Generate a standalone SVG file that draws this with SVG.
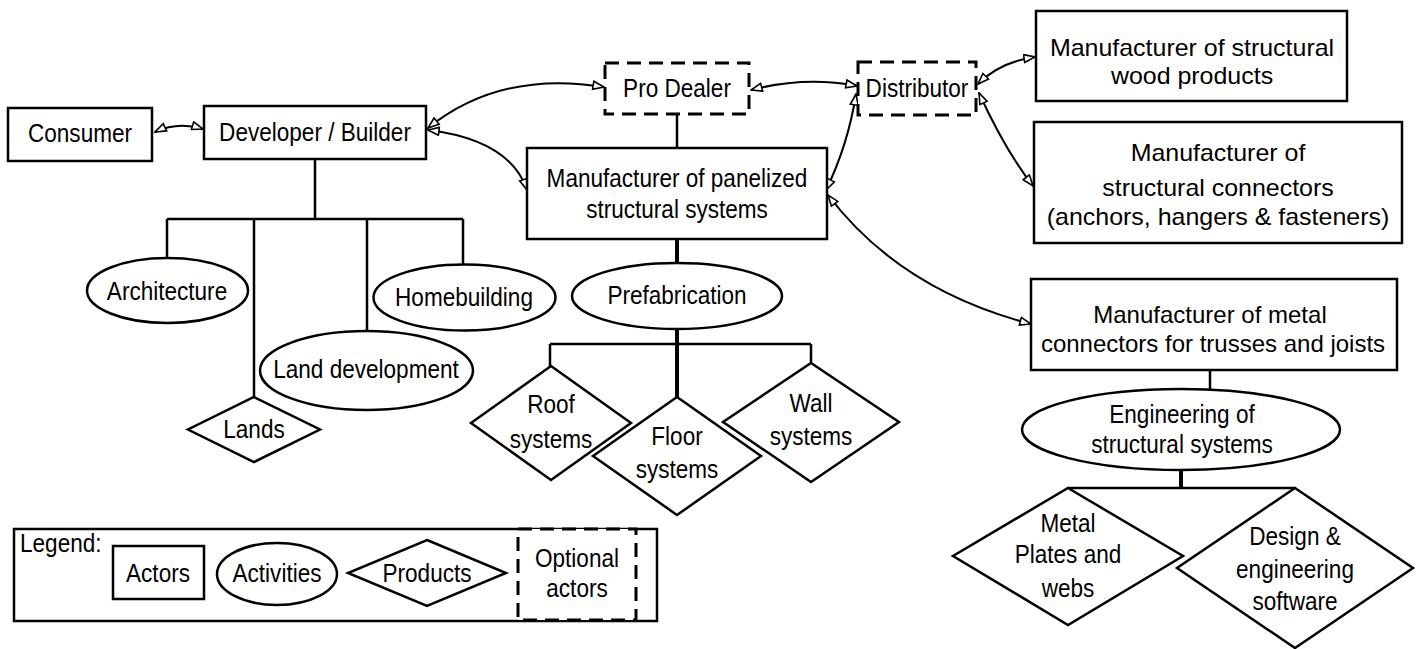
<svg xmlns="http://www.w3.org/2000/svg" width="1420" height="649" viewBox="0 0 1420 649">
<style>
.n{fill:#fff;stroke:#000;stroke-width:2.5}
.d{fill:#fff;stroke:#000;stroke-width:3;stroke-dasharray:14 8}
.t{font-family:"Liberation Sans",Arial,sans-serif;font-size:25.5px;fill:#000;text-anchor:middle}
.b{font-size:24px}
.s{text-anchor:start}
.l{fill:none;stroke:#000;stroke-width:2.5}
.k{fill:none;stroke:#000;stroke-width:4}
.c{fill:none;stroke:#000;stroke-width:2;marker-start:url(#arr);marker-end:url(#arr)}
</style>
<defs>
<marker id="arr" viewBox="0 0 13 10" refX="12" refY="5" markerWidth="13" markerHeight="10" markerUnits="userSpaceOnUse" orient="auto-start-reverse">
<path d="M1,1 L12,5 L1,9 Z" fill="#fff" stroke="#000" stroke-width="1.6"/>
</marker>
</defs>
<rect width="1420" height="649" fill="#fff"/>
<g id="tree-lines">
<path class="l" d="M315 159 V219 M167 219 H463 M167 219 V258 M254 219 V397 M367 219 V331 M463 219 V264"/>
<path class="l" d="M677 114 V148"/>
<path class="k" d="M677 239 V263 M677 329 V397"/>
<path class="l" d="M550 344 H811 M550 344 V367 M811 344 V363"/>
<path class="l" d="M1210 370 V389"/>
<path class="k" d="M1181 470 V488"/>
<path class="l" d="M1068 488 H1295"/>
</g>
<g id="connectors">
<path class="c" d="M155 132 Q178 121 203 129"/>
<path class="c" d="M428 128 Q500 70 604 87"/>
<path class="c" d="M428 130 Q510 140 527 190"/>
<path class="c" d="M751 90 Q805 76 857 86"/>
<path class="c" d="M856 94 Q848 145 826 190"/>
<path class="c" d="M978 84 Q1000 62 1035 57"/>
<path class="c" d="M979 93 Q1005 150 1033 186"/>
<path class="c" d="M828 195 Q900 290 1031 324"/>
</g>
<g id="consumer"><rect class="n" x="8" y="108" width="144" height="53"/><text class="t" transform="translate(80 142) scale(.885 1)">Consumer</text></g>
<g id="developer"><rect class="n" x="204" y="106" width="222" height="53"/><text class="t" transform="translate(315 141) scale(.885 1)">Developer / Builder</text></g>
<g id="pro-dealer"><rect class="d" x="605" y="63" width="144" height="51"/><text class="t" transform="translate(677 97) scale(.885 1)">Pro Dealer</text></g>
<g id="distributor"><rect class="d" x="858" y="62" width="118" height="53"/><text class="t" transform="translate(917 97) scale(.885 1)">Distributor</text></g>
<g id="mfr-wood"><rect class="n" x="1036" y="11" width="311" height="90"/><text class="t b" transform="translate(1192 56) scale(1.04 1)">Manufacturer of structural</text><text class="t b" transform="translate(1192 84) scale(1.04 1)">wood products</text></g>
<g id="mfr-connectors"><rect class="n" x="1034" y="122" width="368" height="121"/><text class="t b" transform="translate(1218 161) scale(1.04 1)">Manufacturer of</text><text class="t b" transform="translate(1218 196) scale(1.04 1)">structural connectors</text><text class="t b" transform="translate(1218 225) scale(1.04 1)">(anchors, hangers &amp; fasteners)</text></g>
<g id="mfr-panelized"><rect class="n" x="527" y="148" width="300" height="91"/><text class="t" transform="translate(677 187) scale(.885 1)">Manufacturer of panelized</text><text class="t" transform="translate(677 218) scale(.885 1)">structural systems</text></g>
<g id="mfr-metal"><rect class="n" x="1031" y="279" width="366" height="91"/><text class="t b" transform="translate(1210 323)">Manufacturer of metal</text><text class="t b" transform="translate(1213 352)">connectors for trusses and joists</text></g>
<g id="architecture"><ellipse class="n" cx="167.5" cy="290.5" rx="80.5" ry="32.5"/><text class="t" transform="translate(167 300) scale(.885 1)">Architecture</text></g>
<g id="homebuilding"><ellipse class="n" cx="464.5" cy="297.5" rx="91" ry="33"/><text class="t" transform="translate(464 306) scale(.885 1)">Homebuilding</text></g>
<g id="land-development"><ellipse class="n" cx="366.5" cy="370.5" rx="106.5" ry="39.5"/><text class="t" transform="translate(366 378) scale(.885 1)">Land development</text></g>
<g id="lands"><polygon class="n" points="254,397 320,429.5 254,462 188,429.5"/><text class="t" transform="translate(254 438) scale(.885 1)">Lands</text></g>
<g id="prefabrication"><ellipse class="n" cx="677" cy="296" rx="105" ry="33"/><text class="t" transform="translate(677 304) scale(.885 1)">Prefabrication</text></g>
<g id="roof"><polygon class="n" points="551,366 631,423 551,480 471,423"/><text class="t" transform="translate(551 413) scale(.885 1)">Roof</text><text class="t" transform="translate(551 448) scale(.885 1)">systems</text></g>
<g id="floor"><polygon class="n" points="677,397 761,456 677,515 593,456"/><text class="t" transform="translate(677 445) scale(.885 1)">Floor</text><text class="t" transform="translate(677 478) scale(.885 1)">systems</text></g>
<g id="wall"><polygon class="n" points="811,363 899,422 811,482 723,422"/><text class="t" transform="translate(811 412) scale(.885 1)">Wall</text><text class="t" transform="translate(811 445) scale(.885 1)">systems</text></g>
<g id="engineering"><ellipse class="n" cx="1181" cy="429.5" rx="159" ry="40.5"/><text class="t" transform="translate(1182 423) scale(.885 1)">Engineering of</text><text class="t" transform="translate(1182 453) scale(.885 1)">structural systems</text></g>
<g id="metal-plates"><polygon class="n" points="1068,488 1183,556 1068,625 953,556"/><text class="t" transform="translate(1068 532) scale(.885 1)">Metal</text><text class="t" transform="translate(1068 563) scale(.885 1)">Plates and</text><text class="t" transform="translate(1068 597) scale(.885 1)">webs</text></g>
<g id="design-software"><polygon class="n" points="1295,488 1413,568 1295,648 1177,568"/><text class="t" transform="translate(1295 545) scale(.885 1)">Design &amp;</text><text class="t" transform="translate(1295 578) scale(.885 1)">engineering</text><text class="t" transform="translate(1295 610) scale(.885 1)">software</text></g>
<g id="legend">
<rect class="n" x="14" y="529" width="643" height="92"/>
<text class="t s" transform="translate(20 552) scale(.885 1)">Legend:</text>
<rect class="n" x="113" y="546" width="91" height="53"/><text class="t" transform="translate(158 582) scale(.885 1)">Actors</text>
<ellipse class="n" cx="277" cy="574" rx="60" ry="31"/><text class="t" transform="translate(277 582) scale(.885 1)">Activities</text>
<polygon class="n" points="427,540 506,573 427,606 348,573"/><text class="t" transform="translate(427 582) scale(.885 1)">Products</text>
<rect class="d" x="518" y="529" width="118" height="91"/><text class="t" transform="translate(577 567) scale(.885 1)">Optional</text><text class="t" transform="translate(577 597) scale(.885 1)">actors</text>
</g>
</svg>
